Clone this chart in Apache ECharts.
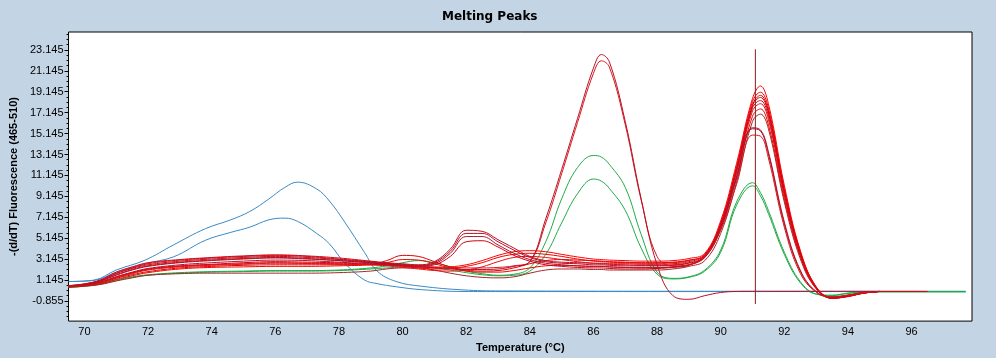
<!DOCTYPE html>
<html><head><meta charset="utf-8">
<script src="https://cdn.jsdelivr.net/npm/echarts@6/dist/echarts.min.js"></script>
<style>html,body{margin:0;padding:0;background:#C3D4E4}#c{width:996px;height:358px}</style>
</head><body><div id="c"></div><script>
// ---- data ----
const xTicks = [70,72,74,76,78,80,82,84,86,88,90,92,94,96];
const yTicks = [-0.855,1.145,3.145,5.145,7.145,9.145,11.145,13.145,15.145,17.145,19.145,21.145,23.145];

const blueTemps = [69.5,70.3,71,71.9,72.8,73.8,74.6,75.2,75.8,76.3,76.7,77.3,77.7,78.2,78.8,79.2,79.8,80.6,81.9,83.1,90,97.7];
const blue1 = [1.0,1.14,2.1,3.04,4.5,6.05,6.9,7.7,8.9,10.0,10.5,9.85,8.7,6.6,3.8,2.0,1.0,0.55,0.2,0.1,0.07,0.07];
const blue2 = [1.0,1.1,1.9,2.7,3.36,4.94,5.7,6.2,6.9,7.06,6.75,5.6,4.6,2.7,1.15,0.8,0.5,0.22,0.05,0.04,0.04,0.04];

const temps = [69.5,70,70.5,71,71.5,72,73,74,75,76,77,78,79,79.5,80,80.5,81,81.5,82,82.5,83,83.5,84,84.5,85,85.5,86,86.25,86.5,87,87.5,88,88.5,89,89.5,90,90.5,91,91.25,91.5,92,92.5,93,93.5,94,94.5,95,96.5,97.7];

const green1 = [0.45,0.56,0.78,1.15,1.45,1.65,1.85,1.95,2.0,2.05,2.05,2.1,2.3, 2.5,2.8,3.0,2.8,2.4,2.0,1.75,1.6,1.7,2.3,4.8,8.9,11.9,13.05,12.9,12.2,10.0,5.5,1.9,1.3,1.45, 2.1,4.0,8.6,10.45,9.5,7.8,3.8,1.0,-0.2,-0.35,-0.15,0.0,0.02,0.02,0.02];
const green2 = [0.45,0.55,0.74,1.1,1.4,1.6,1.8,1.9,1.95,2.0,2.0,2.05,2.2, 2.3,2.4,2.45,2.3,2.1,1.85,1.65,1.55,1.6,2.0,3.6,6.6,9.4,10.8,10.6,9.9,7.8,4.2,1.7,1.25,1.4, 2.0,3.8,8.3,10.15,9.2,7.5,3.6,0.9,-0.2,-0.3,-0.1,0.0,0.02,0.02,0.02];

const red1 = [0.55,0.68,0.95,1.45,1.9,2.25,2.6,2.8,2.95,3.05,3.0,2.85,2.7, 2.6,2.5,2.4,2.3,2.2,2.15,2.15,2.2,2.45,2.9,7.0,11.7,16.6,21.4,22.7,22.0,16.3,8.9,2.6,-0.35,-0.7, -0.35,-0.05,0.05,0.06,0.06,0.06,0.06,0.06,0.06,0.06,0.06,0.06,0.06];
const red2 = [0.5,0.64,0.88,1.35,1.75,2.1,2.4,2.55,2.65,2.75,2.72,2.65,2.6, 2.55,2.5,2.45,2.4,2.35,2.3,2.3,2.35,2.5,2.9,6.6,11.3,16.2,20.9,22.1,21.5,16.0,8.8,3.4,2.5,2.6, 3.4,5.9,10.3,15.0,14.9,12.8,6.2,1.8,0.0,-0.45,-0.3,-0.05,0.05];
const red3 = [0.6,0.78,1.15,1.9,2.4,2.8,3.1,3.3,3.45,3.55,3.45,3.25,2.95, 2.8,2.7,2.6,2.9,4.1,5.9,5.8,5.0,4.2,3.4,3.0,2.85,2.8,2.75,2.75,2.7,2.7,2.65,2.65,2.7,2.9, 3.5,6.4,11.6,17.6,18.3,16.8,9.4,3.6,0.4,-0.6,-0.4,-0.1,0.05];
const red4 = [0.6,0.75,1.1,1.75,2.25,2.6,2.95,3.15,3.3,3.4,3.3,3.1,2.85, 2.75,2.65,2.55,2.8,3.9,5.6,5.6,4.8,4.0,3.3,2.9,2.75,2.7,2.6,2.6,2.55,2.5,2.5,2.5,2.55,2.75, 3.3,6.0,10.8,15.6,15.4,13.2,6.5,2.0,0.0,-0.5,-0.3,-0.05,0.05];
const red5 = [0.55,0.72,1.05,1.6,2.1,2.45,2.8,3.0,3.15,3.25,3.15,3.0,2.78, 2.7,2.6,2.5,2.7,3.7,5.3,5.3,4.5,3.7,3.1,2.75,2.6,2.5,2.45,2.45,2.4,2.35,2.35,2.35,2.4,2.6, 3.4,6.2,11.0,15.7,15.5,13.4,6.7,2.1,0.05,-0.5,-0.3,-0.05,0.05];
const red6 = [0.55,0.68,0.95,1.45,1.85,2.2,2.5,2.65,2.8,2.9,2.85,2.78,2.65, 2.6,2.55,2.45,2.6,3.4,4.8,4.9,4.3,3.5,2.95,2.6,2.45,2.35,2.3,2.3,2.25,2.2,2.2,2.25,2.35,2.55, 3.5,6.4,11.7,17.8,18.6,17.1,9.6,3.7,0.4,-0.6,-0.4,-0.1,0.05];
const red7 = [0.5,0.62,0.85,1.3,1.65,1.95,2.3,2.45,2.55,2.6,2.6,2.6,2.65, 3.0,3.5,3.4,2.9,2.4,2.1,2.0,2.05,2.3,2.7,3.0,3.1,3.05,3.0,2.95,2.9,2.85,2.8,2.8,2.85,3.05, 3.5,6.5,11.8,17.9,18.8,17.3,9.7,3.8,0.45,-0.6,-0.45,-0.1,0.05,0.05];
const red8 = [0.5,0.6,0.8,1.2,1.55,1.85,2.2,2.35,2.4,2.45,2.45,2.5,2.6, 2.8,3.1,3.05,2.7,2.3,2.0,1.9,1.9,2.05,2.3,2.5,2.55,2.5,2.45,2.45,2.4,2.35,2.3,2.3,2.4,2.6, 3.3,6.1,11.1,16.8,17.5,16.0,8.9,3.4,0.35,-0.5,-0.4,-0.1,0.05];
const red9 = [0.6,0.76,1.12,1.8,2.3,2.7,3.05,3.25,3.4,3.5,3.4,3.15,2.9, 2.7,2.55,2.4,2.35,2.4,2.6,3.0,3.5,3.85,3.95,3.85,3.6,3.35,3.15,3.1,3.05,3.0,2.95,2.95,3.0,3.2, 3.7,6.8,12.3,18.5,19.7,18.0,10.2,4.0,0.5,-0.55,-0.4,-0.1,0.05];
const red10 = [0.58,0.72,1.05,1.65,2.15,2.5,2.85,3.05,3.2,3.3,3.2,3.0,2.8, 2.6,2.45,2.3,2.2,2.25,2.45,2.8,3.3,3.6,3.7,3.6,3.4,3.15,2.95,2.9,2.85,2.8,2.75,2.75,2.8,3.0, 3.6,6.6,12.0,18.2,19.1,17.6,9.9,3.9,0.5,-0.6,-0.4,-0.1,0.05];
const red11 = [0.52,0.66,0.9,1.4,1.8,2.15,2.45,2.6,2.7,2.8,2.75,2.7,2.6, 2.5,2.35,2.2,2.05,2.0,2.1,2.4,2.9,3.3,3.4,3.3,3.1,2.9,2.75,2.7,2.65,2.6,2.55,2.55,2.6,2.8, 3.4,6.3,11.4,17.3,18.0,16.5,9.2,3.5,0.4,-0.55,-0.4,-0.1,0.05];
const red12 = [0.45,0.55,0.72,1.05,1.35,1.6,1.75,1.8,1.8,1.8,1.8,1.85,2.0, 2.2,2.3,2.3,2.1,1.8,1.55,1.4,1.35,1.45,1.8,2.1,2.2,2.2,2.15,2.15,2.1,2.1,2.1,2.1,2.2,2.45, 3.0,5.6,10.5,16.3,17.0,15.6,8.6,3.2,0.3,-0.5,-0.35,-0.05,0.05,0.05];

const cursorTemp = 91.09;
const cursorRange = [-1.15, 23.2];

// ---- chart ----
const chart = echarts.init(document.getElementById('c'));
function pairs(xs, ys){ return ys.map((y,i)=>[xs[i], y]); }
function line(name, xs, ys, color){
  return { name, type:'line', data: pairs(xs, ys), showSymbol:false, symbol:'none', smooth:0.4,
    lineStyle:{ color, width:1 }, emphasis:{disabled:true}, animation:false };
}
const minor = [];
for (let v = -2.355; v < 24.85; v += 0.5) {
  const r = Math.round(v*1000)/1000;
  if (!yTicks.some(t => Math.abs(t - r) < 1e-6)) minor.push(r);
}
const labelFont = { fontFamily:'Liberation Sans, Arial, sans-serif', fontSize:11, color:'#000' };
const series = [
  line('b1', blueTemps, blue1, '#3A8AC4'),
  line('b2', blueTemps, blue2, '#3A8AC4'),
  line('g1', temps, green1, '#1FAA45'),
  line('g2', temps, green2, '#1FAA45'),
  line('r12', temps, red12, '#A02828'),
  line('r8', temps, red8, '#F00000'),
  line('r7', temps, red7, '#E00000'),
  line('r11', temps, red11, '#E81010'),
  line('r10', temps, red10, '#F00000'),
  line('r9', temps, red9, '#FF0000'),
  line('r6', temps, red6, '#D00010'),
  line('r5', temps, red5, '#A8142C'),
  line('r4', temps, red4, '#B0102A'),
  line('r3', temps, red3, '#C01020'),
  line('r2', temps, red2, '#D81818'),
  line('r1', temps, red1, '#B8102A'),
  { name:'cursor', type:'line', data:[[cursorTemp, cursorRange[0]],[cursorTemp, cursorRange[1]]],
    showSymbol:false, symbol:'none', lineStyle:{color:'#8B1C1C', width:1}, animation:false }
];
chart.setOption({
  backgroundColor:'#C3D4E4',
  animation:false,
  title:{ text:'Melting Peaks', left:442, top:11, padding:0,
    textStyle:{ fontFamily:'DejaVu Sans', fontWeight:'bold', fontSize:12, color:'#000' } },
  grid:{ left:63, top:32, right:24, bottom:35, show:true, backgroundColor:'#fff', borderColor:'#000', borderWidth:1 },
  xAxis:{ type:'value', min:69.5, max:97.9,
    name:'Temperature (°C)', nameLocation:'middle', nameGap:17,
    nameTextStyle:{ fontFamily:'Liberation Sans, Arial, sans-serif', fontWeight:'bold', fontSize:11, color:'#000' },
    axisLine:{show:false}, axisTick:{show:false}, splitLine:{show:false},
    axisLabel:Object.assign({ customValues:xTicks, margin:5 }, labelFont) },
  yAxis:[
    { type:'value', min:-2.783, max:24.855,
      name:'-(d/dT) Fluorescence (465-510)', nameLocation:'middle', nameGap:39, nameRotate:90,
      nameTextStyle:{ fontFamily:'Liberation Sans, Arial, sans-serif', fontWeight:'bold', fontSize:11, color:'#000' },
      axisLine:{show:false}, splitLine:{show:false},
      axisTick:{ show:true, customValues:yTicks, length:4, lineStyle:{color:'#000'} },
      axisLabel:Object.assign({ customValues:yTicks, margin:5, formatter:v=>v.toFixed(3) }, labelFont) },
    { type:'value', min:-2.783, max:24.855, position:'left',
      axisLine:{show:false}, splitLine:{show:false}, axisLabel:{show:false},
      axisTick:{ show:true, customValues:minor, length:2, lineStyle:{color:'#000'} } }
  ],
  series
});
</script></body></html>
